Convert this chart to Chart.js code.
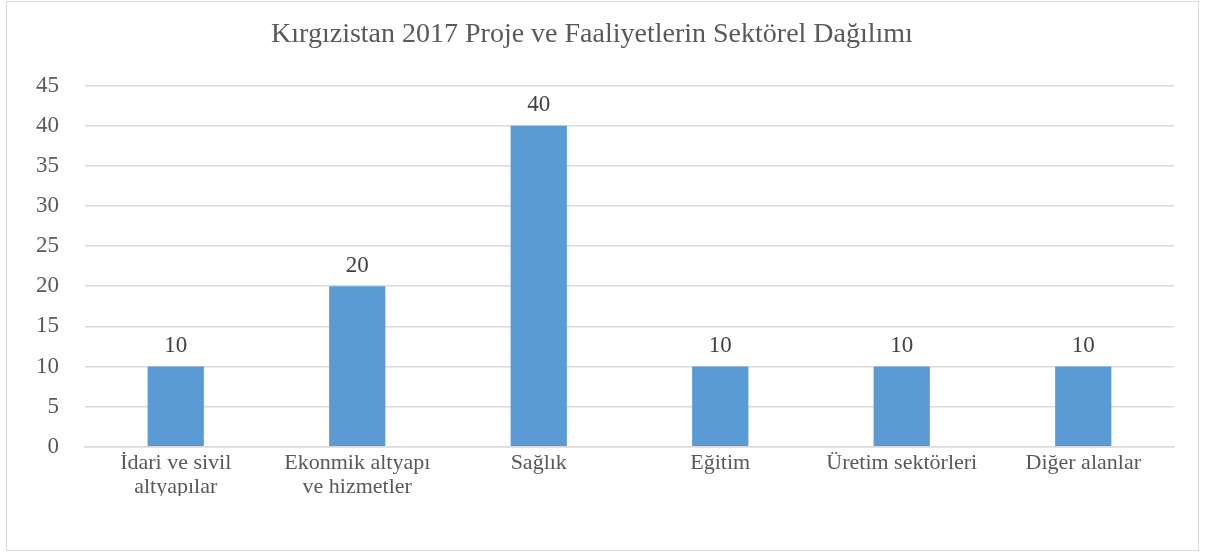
<!DOCTYPE html>
<html>
<head>
<meta charset="utf-8">
<script src="https://cdn.jsdelivr.net/npm/chart.js@4"></script>
<style>
  html, body { margin: 0; padding: 0; background: #fff; }
  #kutu { position: absolute; left: 6px; top: 1px; width: 1191px; height: 548px; border: 1px solid #d9d9d9; }
</style>
</head>
<body>
<div id="kutu"><canvas id="grafik"></canvas></div>
<script>
const sektorler = [['İdari ve sivil', 'altyapılar'], ['Ekonmik altyapı', 've hizmetler'], 'Sağlık', 'Eğitim', 'Üretim sektörleri', 'Diğer alanlar'];
const yuzdeler = [10, 20, 40, 10, 10, 10];
const baslik = 'Kırgızistan 2017 Proje ve Faaliyetlerin Sektörel Dağılımı';

// bar üstündeki değerler
const degerEtiketi = {
  id: 'degerEtiketi',
  afterDatasetsDraw(chart) {
    const ctx = chart.ctx;
    ctx.save();
    ctx.font = '23px "Liberation Serif"';
    ctx.fillStyle = '#404040';
    ctx.textAlign = 'center';
    ctx.textBaseline = 'bottom';
    chart.getDatasetMeta(0).data.forEach((bar, i) => {
      ctx.fillText(chart.data.datasets[0].data[i], bar.x, bar.y - 9);
    });
    ctx.restore();
  }
};

Chart.defaults.font.family = '"Liberation Serif", "Times New Roman", serif';
Chart.defaults.color = '#595959';

new Chart(document.getElementById('grafik'), {
  type: 'bar',
  data: {
    labels: sektorler,
    datasets: [{
      data: yuzdeler,
      backgroundColor: '#5b9bd5',
      barPercentage: 0.31,
      categoryPercentage: 1
    }]
  },
  options: {
    responsive: true,
    maintainAspectRatio: false,
    animation: false,
    layout: { padding: { left: 3, right: 24, top: 12, bottom: 54 } },
    plugins: {
      legend: { display: false },
      tooltip: { enabled: false },
      title: {
        display: true,
        text: baslik,
        color: '#595959',
        font: { size: 28, weight: 'normal' },
        padding: { top: 4, bottom: 34 }
      }
    },
    scales: {
      y: {
        min: 0,
        max: 45,
        ticks: { stepSize: 5, font: { size: 23 }, padding: 26 },
        grid: { color: '#d9d9d9', lineWidth: 1.5, drawTicks: false },
        border: { display: false }
      },
      x: {
        ticks: { font: { size: 22, lineHeight: 1.12 }, padding: -4, maxRotation: 0 },
        grid: { display: false },
        border: { color: '#d9d9d9', width: 1.5 }
      }
    }
  },
  plugins: [degerEtiketi]
});
</script>
</body>
</html>
